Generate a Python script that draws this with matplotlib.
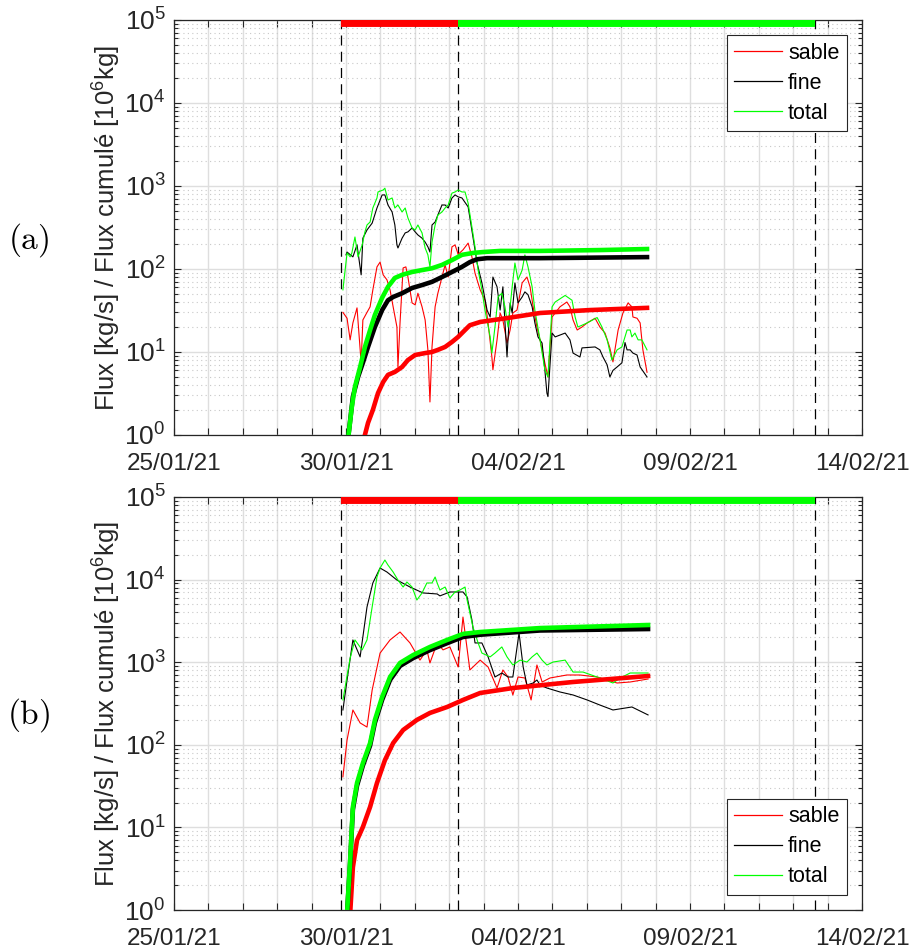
import numpy as np
import pandas as pd
import matplotlib
matplotlib.use('Agg')
import matplotlib.pyplot as plt
import matplotlib.dates as mdates
import matplotlib.ticker as mticker

plt.rcParams['font.family'] = ['Liberation Sans', 'DejaVu Sans']
plt.rcParams['mathtext.fontset'] = 'custom'
plt.rcParams['mathtext.rm'] = 'Liberation Sans'
plt.rcParams['mathtext.it'] = 'Liberation Sans:italic'
plt.rcParams['mathtext.bf'] = 'Liberation Sans:bold'

t0 = pd.Timestamp('2021-01-25')
xmax = pd.Timestamp('2021-02-14')

# event limits (days after 25/01/21)
ev_start = 4.855
ev_switch = 8.256
ev_end = 18.63

# ---- panel (a) : instantaneous flux [kg/s] ----
a_sable_t = [4.91, 5.03, 5.12, 5.20, 5.32, 5.44, 5.49, 5.61, 5.70, 5.78, 5.90, 5.99, 6.08, 6.19, 6.28,
             6.37, 6.48, 6.51, 6.57, 6.66, 6.74, 6.80, 6.92, 7.01, 7.09, 7.21, 7.30, 7.38, 7.44, 7.50,
             7.59, 7.67, 7.79, 7.88, 7.97, 8.08, 8.17, 8.26, 8.40, 8.55, 8.66, 8.75, 8.90, 9.04, 9.13,
             9.24, 9.27, 9.39, 9.48, 9.56, 9.68, 9.77, 9.85, 9.97, 10.12, 10.26, 10.35, 10.44, 10.55,
             10.64, 10.78, 10.87, 10.99, 11.22, 11.42, 11.51, 11.60, 11.72, 11.86, 12.01, 12.24, 12.38,
             12.53, 12.67, 12.76, 12.91, 13.05, 13.20, 13.31, 13.34, 13.46, 13.55, 13.63, 13.75]
a_sable_v = [30, 25.5, 14, 22.4, 34, 7.4, 24.3, 30, 35, 56, 106, 121, 85, 74, 56,
             35, 20, 6.6, 22.4, 103, 106, 80, 39, 37, 51, 35, 24.3, 10.6, 2.5, 11.5,
             35, 51, 80, 112, 80, 185, 195, 150, 170, 205, 140, 89, 56, 42, 22.4,
             8.7, 6.1, 14, 29.5, 24.3, 12.8, 18.4, 29.5, 32, 68, 80, 61, 35, 20,
             14, 7.4, 5.0, 26.4, 35, 40, 35, 24.3, 18.4, 20, 22.4, 25.5, 20,
             16.9, 11.2, 7.6, 18.4, 29.5, 39, 35, 26.4, 25.5, 22.4, 10.6, 5.7]

a_fine_t = [5.00, 5.03, 5.20, 5.32, 5.44, 5.49, 5.61, 5.76, 5.90, 6.05, 6.13, 6.22, 6.34, 6.42, 6.48,
            6.51, 6.63, 6.72, 6.80, 6.92, 7.01, 7.09, 7.21, 7.30, 7.38, 7.44, 7.50, 7.59, 7.67, 7.79,
            7.88, 7.97, 8.08, 8.17, 8.26, 8.37, 8.55, 8.69, 8.81, 8.95, 9.10, 9.19, 9.27, 9.39, 9.48,
            9.56, 9.68, 9.77, 9.83, 9.91, 10.00, 10.12, 10.20, 10.29, 10.41, 10.49, 10.58, 10.70,
            10.78, 10.84, 10.87, 10.99, 11.08, 11.37, 11.51, 11.60, 11.80, 11.86, 12.24, 12.38,
            12.47, 12.59, 12.67, 12.76, 12.88, 13.02, 13.11, 13.17, 13.26, 13.34, 13.46, 13.55, 13.75]
a_fine_v = [148, 160, 140, 195, 85, 235, 295, 357, 543, 780, 780, 590, 486, 339, 195,
            179, 235, 272, 280, 312, 280, 257, 235, 211, 185, 160, 339, 368, 447, 590,
            590, 543, 717, 780, 740, 717, 560, 243, 118, 68, 32, 26.4, 80, 61, 32,
            61, 8.7, 39, 29.5, 68, 39, 46, 53, 49, 35, 22.4, 15.2, 12.8,
            6.1, 3.2, 2.9, 16.9, 15.2, 16.9, 14, 9.7, 8.7, 11.2, 11.5, 10.6,
            8.7, 7.0, 5.0, 6.0, 6.6, 7.4, 13, 10.6, 10.6, 9.7, 9.2, 6.6, 5.0]

a_total_t = [4.91, 5.03, 5.12, 5.17, 5.26, 5.35, 5.47, 5.55, 5.61, 5.70, 5.78, 5.90, 5.93, 6.08, 6.13,
             6.22, 6.34, 6.42, 6.51, 6.63, 6.72, 6.80, 6.92, 7.01, 7.09, 7.21, 7.30, 7.38, 7.44, 7.50,
             7.59, 7.67, 7.79, 7.88, 7.97, 8.08, 8.17, 8.26, 8.37, 8.46, 8.55, 8.66, 8.75, 8.84, 8.95,
             9.04, 9.19, 9.24, 9.33, 9.42, 9.53, 9.62, 9.71, 9.83, 9.91, 10.00, 10.12, 10.20, 10.29,
             10.41, 10.49, 10.64, 10.78, 10.87, 10.99, 11.08, 11.37, 11.57, 11.66, 11.74, 11.86, 12.01,
             12.30, 12.44, 12.59, 12.73, 12.88, 13.02, 13.17, 13.26, 13.31, 13.40, 13.49, 13.60, 13.75]
a_total_v = [56, 156, 140, 156, 243, 140, 195, 280, 339, 368, 543, 717, 847, 895, 940,
             678, 717, 543, 590, 486, 543, 412, 312, 295, 339, 272, 179, 148, 106, 211,
             339, 447, 486, 543, 590, 820, 847, 895, 847, 847, 620, 320, 185, 97, 56,
             32, 15.2, 9.7, 20, 46, 51, 35, 20, 61, 118, 74, 97, 148, 106,
             61, 32, 14, 6.1, 5.0, 35, 40, 48, 42, 26.4, 20, 21, 22.4,
             26, 20, 14, 8.0, 10.6, 11.5, 18.4, 18.4, 15.2, 16.9, 14, 14, 10.6]

# cumulated flux [10^6 kg]
a_cum_total_t = [5.06, 5.17, 5.26, 5.41, 5.55, 5.70, 5.84, 6.05, 6.22, 6.42, 6.63, 6.92, 7.21, 7.50,
                 7.79, 8.08, 8.37, 8.69, 8.98, 9.48, 10.64, 12.38, 13.75]
a_cum_total_v = [0.9, 2.2, 3.8, 6.6, 11.5, 18.4, 28, 45, 61, 78, 85, 92, 97, 102,
                 112, 128, 148, 156, 160, 165, 165, 169, 174]
a_cum_fine_t = [5.06, 5.20, 5.35, 5.49, 5.64, 5.84, 6.05, 6.22, 6.37, 6.63, 6.92, 7.21, 7.50, 7.79,
                8.08, 8.37, 8.60, 8.81, 9.10, 10.64, 13.75]
a_cum_fine_v = [0.9, 2.9, 5.0, 7.4, 11.5, 20, 32, 42, 46, 51, 59, 64, 70, 80,
                92, 106, 121, 131, 135, 135, 139]
a_cum_sable_t = [5.52, 5.64, 5.78, 5.93, 6.08, 6.22, 6.42, 6.63, 6.80, 7.01, 7.30, 7.50, 7.67, 7.88,
                 8.08, 8.26, 8.46, 8.60, 8.90, 9.68, 10.64, 12.09, 13.75]
a_cum_sable_v = [0.9, 1.4, 2.0, 3.2, 4.35, 5.3, 5.75, 6.6, 8.0, 9.2, 9.7, 10.0, 10.6, 11.5,
                 13.2, 15.2, 18.4, 21, 23, 25.6, 29.5, 32, 34]

# ---- panel (b) ----
b_sable_t = [4.91, 5.03, 5.20, 5.41, 5.61, 5.76, 5.99, 6.28, 6.57, 6.86, 7.15, 7.35, 7.44, 7.65, 7.82,
             8.02, 8.26, 8.40, 8.60, 8.90, 9.13, 9.39, 9.56, 9.71, 9.85, 10.00, 10.20, 10.38, 10.55,
             10.70, 10.93, 11.42, 11.80, 12.30, 12.88, 13.26, 13.78]
b_sable_v = [41, 114, 264, 184, 164, 460, 1290, 1860, 2320, 1710, 1060, 1410, 980, 1710, 1410,
             1530, 875, 3520, 805, 1060, 875, 487, 805, 662, 401, 662, 644, 349, 925,
             576, 644, 700, 700, 662, 560, 576, 626]

b_fine_t = [4.91, 5.03, 5.20, 5.41, 5.61, 5.78, 5.99, 6.19, 6.48, 6.86, 7.24, 7.65, 7.73, 8.02, 8.40,
            8.52, 8.66, 8.75, 8.95, 9.13, 9.33, 9.53, 9.71, 9.85, 10.03, 10.15, 10.26, 10.44, 10.55,
            10.64, 10.84, 11.22, 11.60, 12.01, 12.38, 12.76, 13.31, 13.78]
b_fine_v = [264, 609, 1860, 1160, 4660, 9100, 13800, 12350, 9880, 8130, 6890, 6700, 6350, 7080, 7080,
            6160, 3240, 1710, 1710, 1160, 662, 740, 662, 662, 2260, 875, 530, 560, 609,
            530, 487, 436, 401, 349, 303, 264, 287, 230]

b_total_t = [4.91, 5.12, 5.26, 5.47, 5.61, 5.76, 5.90, 5.99, 6.13, 6.22, 6.37, 6.51, 6.66, 6.77, 6.92,
             7.06, 7.21, 7.35, 7.50, 7.59, 7.65, 7.73, 7.88, 8.02, 8.17, 8.31, 8.46, 8.52, 8.69, 8.84,
             8.95, 9.19, 9.33, 9.53, 9.68, 9.85, 10.06, 10.26, 10.41, 10.55, 10.70, 10.84, 11.02,
             11.37, 11.60, 11.89, 12.38, 12.76, 12.97, 13.26, 13.78]
b_total_v = [349, 1120, 1860, 1410, 1860, 4660, 10750, 13800, 17260, 15000, 12350, 9880, 8130, 9350, 8130,
             5660, 6890, 9100, 9100, 10750, 9100, 7480, 8130, 5990, 7080, 7480, 8130, 5660, 2670, 1710,
             1290, 1160, 1290, 1530, 1160, 925, 1060, 1005, 1160, 1290, 1060, 925, 1005,
             1060, 760, 760, 644, 560, 644, 740, 740]

b_cum_total_t = [5.03, 5.12, 5.20, 5.32, 5.49, 5.70, 5.84, 6.05, 6.28, 6.57, 6.95, 7.44, 7.94, 8.40,
                 8.90, 10.64, 13.78]
b_cum_total_v = [0.9, 4.0, 17.7, 34.5, 60, 105, 200, 379, 662, 980, 1220, 1530, 1860, 2200,
                 2320, 2590, 2820]
b_cum_fine_t = [5.03, 5.12, 5.20, 5.32, 5.49, 5.70, 5.84, 6.05, 6.28, 6.57, 6.95, 7.44, 7.94, 8.40,
                8.90, 10.64, 13.78]
b_cum_fine_v = [0.9, 3.8, 16.5, 32, 56, 98, 185, 350, 610, 900, 1120, 1400, 1700, 2020,
                2150, 2420, 2520]
b_cum_sable_t = [5.12, 5.20, 5.32, 5.49, 5.70, 5.90, 6.13, 6.37, 6.66, 7.06, 7.44, 7.94, 8.40, 8.90,
                 9.85, 11.60, 13.78]
b_cum_sable_v = [0.9, 3.3, 7.0, 10.1, 17.7, 34.5, 65, 105, 151, 200, 243, 287, 349, 424,
                 487, 576, 680]


def d(days):
    return t0 + pd.to_timedelta(np.asarray(days), unit='D')


def day_label(x, pos):
    dt = mdates.num2date(x).replace(tzinfo=None)
    n = int(round((dt - t0.to_pydatetime()).total_seconds() / 86400))
    if n % 5 == 0:
        return dt.strftime('%d/%m/%y')
    return ''


def draw_panel(ax, series, cums, legend_loc):
    red, black, green = (1, 0, 0), (0, 0, 0), (0, 1, 0)
    cols = [red, black, green]
    names = ['sable', 'fine', 'total']
    for (t, v), c, n in zip(series, cols, names):
        ax.plot(d(t), v, color=c, lw=0.8, label=n, zorder=3)
    for (t, v), c in zip(cums, cols):
        ax.plot(d(t), v, color=c, lw=3.3, zorder=4)
    # event bars / limits
    ax.plot(d([ev_start, ev_switch]), [1e5, 1e5], color=red, lw=10, solid_capstyle='butt', zorder=5)
    ax.plot(d([ev_switch, ev_end]), [1e5, 1e5], color=green, lw=10, solid_capstyle='butt', zorder=5)
    for e in [ev_start, ev_switch, ev_end]:
        ax.axvline(d([e])[0], color='k', lw=0.9, ls=(0, (8, 5)), zorder=2)

    ax.set_yscale('log')
    ax.set_ylim(1, 1e5)
    ax.set_xlim(t0, xmax)
    ax.xaxis.set_major_locator(mdates.DayLocator())
    ax.xaxis.set_major_formatter(mticker.FuncFormatter(day_label))
    ax.yaxis.set_major_locator(mticker.LogLocator(base=10, numticks=10))
    ax.yaxis.set_minor_locator(mticker.LogLocator(base=10, subs=np.arange(2, 10), numticks=20))
    ax.yaxis.set_minor_formatter(mticker.NullFormatter())
    ax.grid(True, which='major', color='#dedede', lw=1.0, zorder=0)
    ax.yaxis.grid(True, which='minor', color='#c8c8c8', lw=0.8, ls=(0, (1, 3)))
    ax.set_axisbelow(True)
    ax.tick_params(which='both', direction='in', top=True, right=True, colors='#262626',
                   length=5, width=0.8)
    ax.tick_params(axis='y', labelsize=19, pad=6)
    ax.tick_params(axis='x', labelsize=17.5, pad=13)
    ax.tick_params(which='minor', length=3)
    for s in ax.spines.values():
        s.set_color('#262626')
        s.set_linewidth(0.9)
    ax.set_ylabel('Flux [kg/s] / Flux cumulé [10$^6$kg]', fontsize=18.5, color='#262626', labelpad=1)
    leg = ax.legend(loc=legend_loc, fontsize=15.5, fancybox=False, framealpha=1, edgecolor='#262626',
                    handlelength=2.2, handletextpad=0.3, labelspacing=0.42, borderaxespad=0.7,
                    borderpad=0.35)
    leg.get_frame().set_linewidth(0.8)
    for line in leg.get_lines():
        line.set_linewidth(0.9)


fig = plt.figure(figsize=(9.12, 9.51), dpi=100)
ax1 = fig.add_axes([0.1908, 0.5426, 0.7544, 0.4364])
ax2 = fig.add_axes([0.1908, 0.0431, 0.7544, 0.4343])

draw_panel(ax1,
           [(a_sable_t, a_sable_v), (a_fine_t, a_fine_v), (a_total_t, a_total_v)],
           [(a_cum_sable_t, a_cum_sable_v), (a_cum_fine_t, a_cum_fine_v), (a_cum_total_t, a_cum_total_v)],
           'upper right')
draw_panel(ax2,
           [(b_sable_t, b_sable_v), (b_fine_t, b_fine_v), (b_total_t, b_total_v)],
           [(b_cum_sable_t, b_cum_sable_v), (b_cum_fine_t, b_cum_fine_v), (b_cum_total_t, b_cum_total_v)],
           'lower right')

fig.text(0.031, 0.748, r'$\mathrm{(a)}$', math_fontfamily='cm', fontsize=24, ha='center', va='center')
fig.text(0.031, 0.248, r'$\mathrm{(b)}$', math_fontfamily='cm', fontsize=24, ha='center', va='center')

fig.savefig('out.png', dpi=100)
